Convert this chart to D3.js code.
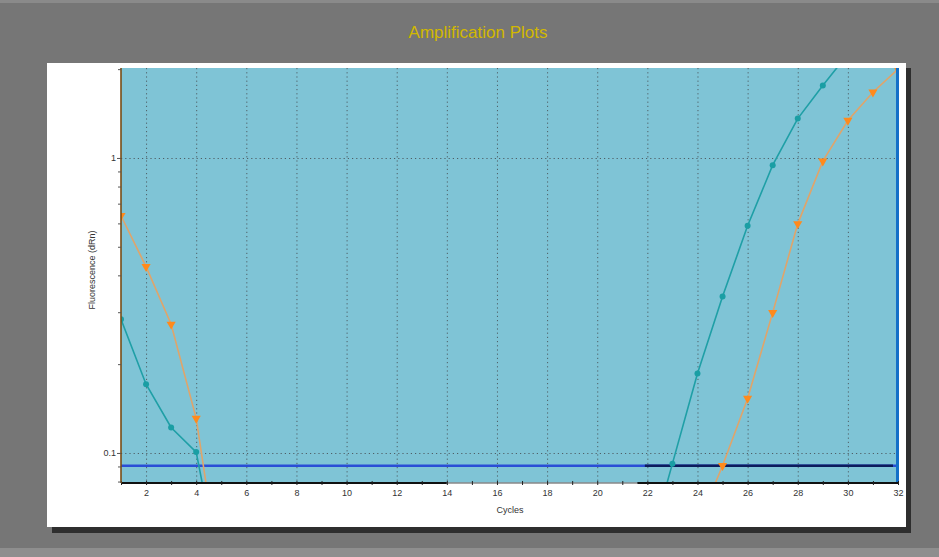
<!DOCTYPE html>
<html>
<head>
<meta charset="utf-8">
<script src="https://cdn.jsdelivr.net/npm/d3@7"></script>
<style>
  html, body { margin: 0; padding: 0; background: #767676; }
  svg { display: block; }
</style>
</head>
<body>
<svg id="chart" width="939" height="557"></svg>
<script>
// Amplification data: cycle number and fluorescence (dRn) for two wells.
const cycles = d3.range(1, 33);
// Teal well (circles); null where no reading is shown.
const tealValues = [0.284, 0.171, 0.122, 0.1007, 0.037, null, null, null, null, null,
  null, null, null, null, null, null, null, null, null, null,
  null, 0.0456, 0.092, 0.186, 0.339, 0.589, 0.945, 1.36, 1.76, 2.25,
  null, null];
// Orange well (downward triangles).
const orangeValues = [0.637, 0.428, 0.273, 0.131, 0.036, null, null, null, null, null,
  null, null, null, null, null, null, null, null, null, null,
  null, null, null, 0.0566, 0.0905, 0.153, 0.299, 0.598, 0.975, 1.34,
  1.67, 2.0];
const thresholdValue = 0.0905;
const baselineRange = [21.9, 31.8];
const xTickLabels = d3.range(2, 33, 2);
const yTickLabels = [0.1, 1];
const yMinorTicks = [0.08, 0.09, 0.2, 0.3, 0.4, 0.5, 0.6, 0.7, 0.8, 0.9, 2];
const titleText = "Amplification Plots";
const xTitle = "Cycles";
const yTitle = "Fluorescence (dRn)";

const svg = d3.select("#chart");
const W = 939, H = 557;

// Page background
svg.append("rect").attr("width", W).attr("height", H).attr("fill", "#767676");
svg.append("rect").attr("x", 0).attr("y", 0).attr("width", W).attr("height", 3).attr("fill", "#8a8a8a");
svg.append("rect").attr("x", 0).attr("y", 548).attr("width", W).attr("height", 9).attr("fill", "#8e8e8e");

// Title
svg.append("text")
  .attr("x", 478).attr("y", 38)
  .attr("text-anchor", "middle")
  .attr("font-family", "Liberation Sans, Arial, sans-serif")
  .attr("font-size", 17)
  .attr("fill", "#d2b800")
  .text(titleText);

// White panel with drop shadow
svg.append("rect").attr("x", 52).attr("y", 68).attr("width", 859).attr("height", 465).attr("fill", "#2e2e2e");
svg.append("rect").attr("x", 47).attr("y", 63).attr("width", 859).attr("height", 464).attr("fill", "#ffffff");

// Scales
const x = d3.scaleLinear().domain([1, 32]).range([121, 898]);
const y = d3.scaleLog().domain([0.0791, 2.018]).range([483, 68]);

const plotL = x.range()[0], plotR = x.range()[1];
const plotT = y.range()[1], plotB = y.range()[0];

// Plot area background
svg.append("rect")
  .attr("x", plotL).attr("y", plotT)
  .attr("width", plotR - plotL).attr("height", plotB - plotT)
  .attr("fill", "#7fc4d6");

svg.append("defs").append("clipPath").attr("id", "plotClip")
  .append("rect")
  .attr("x", plotL).attr("y", plotT)
  .attr("width", plotR - plotL).attr("height", plotB - plotT);

// Dotted grid
const grid = svg.append("g").attr("stroke", "#4f5f66").attr("stroke-width", 1)
  .attr("stroke-dasharray", "1.2,3");
grid.selectAll("line.v").data(xTickLabels.filter(d => d < 32)).enter().append("line")
  .attr("x1", d => x(d) + 0.5).attr("x2", d => x(d) + 0.5)
  .attr("y1", plotT).attr("y2", plotB);
grid.selectAll("line.h").data(yTickLabels).enter().append("line")
  .attr("x1", plotL).attr("x2", plotR)
  .attr("y1", d => Math.round(y(d)) + 0.5).attr("y2", d => Math.round(y(d)) + 0.5);

// Threshold and baseline
svg.append("line")
  .attr("x1", plotL).attr("x2", plotR)
  .attr("y1", y(thresholdValue)).attr("y2", y(thresholdValue))
  .attr("stroke", "#2a4ed6").attr("stroke-width", 2.5);
svg.append("line")
  .attr("x1", x(baselineRange[0])).attr("x2", x(baselineRange[1]))
  .attr("y1", y(thresholdValue)).attr("y2", y(thresholdValue))
  .attr("stroke", "#0c1c5c").attr("stroke-width", 2.5);

// Amplification curves
const tealData = cycles.map((c, i) => ({ c, v: tealValues[i] }));
const orangeData = cycles.map((c, i) => ({ c, v: orangeValues[i] }));
const line = d3.line().defined(d => d.v != null).x(d => x(d.c)).y(d => y(d.v));

const curves = svg.append("g").attr("clip-path", "url(#plotClip)");
curves.append("path").datum(orangeData)
  .attr("d", line).attr("fill", "none")
  .attr("stroke", "#e0a46a").attr("stroke-width", 1.6);
curves.append("path").datum(tealData)
  .attr("d", line).attr("fill", "none")
  .attr("stroke", "#1f9fa6").attr("stroke-width", 1.6);

const inDomain = d => d.v != null && d.v >= y.domain()[0] && d.v <= y.domain()[1];
curves.selectAll("circle.teal").data(tealData.filter(inDomain)).enter().append("circle")
  .attr("cx", d => x(d.c)).attr("cy", d => y(d.v)).attr("r", 3)
  .attr("fill", "#1a9ea4");
const tri = d3.symbol().type(d3.symbolTriangle).size(36);
curves.selectAll("path.orange").data(orangeData.filter(inDomain)).enter().append("path")
  .attr("d", tri)
  .attr("transform", d => `translate(${x(d.c)},${y(d.v)}) rotate(180)`)
  .attr("fill", "#ff8a1c");

// Right-hand boundary marker
svg.append("line")
  .attr("x1", plotR - 0.5).attr("x2", plotR - 0.5)
  .attr("y1", plotT).attr("y2", plotB)
  .attr("stroke", "#1470c8").attr("stroke-width", 3);

// X axis
const xAxisG = svg.append("g").attr("transform", `translate(0,${plotB})`);
xAxisG.append("line").attr("x1", plotL).attr("x2", x(14)).attr("y1", 0).attr("y2", 0)
  .attr("stroke", "#111").attr("stroke-width", 2);
xAxisG.append("line").attr("x1", x(14)).attr("x2", x(21.6)).attr("y1", 0).attr("y2", 0)
  .attr("stroke", "#888").attr("stroke-width", 1.5);
xAxisG.append("line").attr("x1", x(21.6)).attr("x2", plotR).attr("y1", 0).attr("y2", 0)
  .attr("stroke", "#111").attr("stroke-width", 2);
const xAxis = d3.axisBottom(x).tickValues(cycles).tickSize(4).tickSizeOuter(0)
  .tickFormat(d => (d % 2 === 0 ? d : ""));
const xAx = xAxisG.append("g").attr("transform", "translate(0,-2)").call(xAxis);
xAx.select(".domain").remove();
xAx.selectAll(".tick line").attr("stroke", "#222").attr("stroke-width", 1);
xAx.selectAll(".tick text")
  .attr("y", 9)
  .attr("font-family", "Liberation Sans, Arial, sans-serif")
  .attr("font-size", 9).attr("fill", "#333");

svg.append("text")
  .attr("x", 510).attr("y", 513)
  .attr("text-anchor", "middle")
  .attr("font-family", "Liberation Sans, Arial, sans-serif")
  .attr("font-size", 9).attr("fill", "#333")
  .text(xTitle);

// Y axis
const yAxisG = svg.append("g").attr("transform", `translate(${plotL},0)`);
yAxisG.append("line").attr("x1", 0).attr("x2", 0).attr("y1", plotT).attr("y2", plotB)
  .attr("stroke", "#7a4c14").attr("stroke-width", 1.6);
const yAxisMajor = d3.axisLeft(y).tickValues(yTickLabels).tickSize(4).tickSizeOuter(0)
  .tickFormat(d3.format("~g"));
const yAx = yAxisG.append("g").call(yAxisMajor);
yAx.select(".domain").remove();
yAx.selectAll(".tick line").attr("stroke", "#555");
yAx.selectAll(".tick text")
  .attr("x", -5)
  .attr("font-family", "Liberation Sans, Arial, sans-serif")
  .attr("font-size", 9).attr("fill", "#333");
const yAxisMinor = d3.axisLeft(y).tickValues(yMinorTicks).tickSize(3).tickSizeOuter(0)
  .tickFormat("");
const yAxMin = yAxisG.append("g").call(yAxisMinor);
yAxMin.select(".domain").remove();
yAxMin.selectAll(".tick line").attr("stroke", "#555");

svg.append("text")
  .attr("transform", "translate(95,270) rotate(-90)")
  .attr("text-anchor", "middle")
  .attr("font-family", "Liberation Sans, Arial, sans-serif")
  .attr("font-size", 9).attr("fill", "#333")
  .text(yTitle);
</script>
</body>
</html>
